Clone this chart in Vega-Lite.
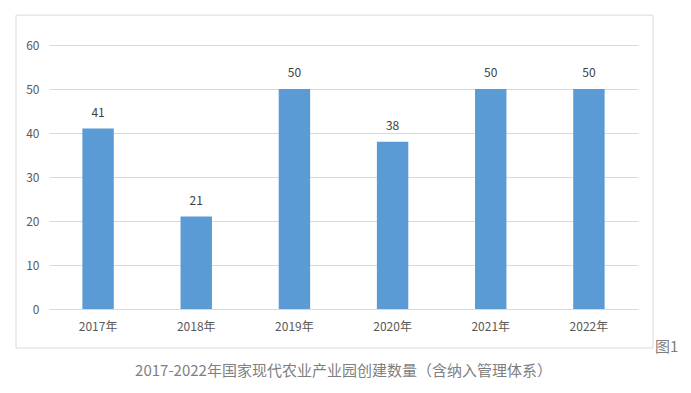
{
  "$schema": "https://vega.github.io/schema/vega-lite/v6.json",
  "width": 589,
  "height": 264,
  "autosize": {"type": "none"},
  "padding": {"left": 49, "top": 45, "right": 53, "bottom": 84},
  "background": "#ffffff",
  "config": {
    "view": {"stroke": null},
    "font": "Noto Sans CJK SC",
    "axis": {"gridColor": "#d9d9d9", "gridWidth": 1}
  },
  "title": {
    "text": "2017-2022年国家现代农业产业园创建数量（含纳入管理体系）",
    "orient": "bottom",
    "anchor": "middle",
    "fontSize": 15,
    "fontWeight": "normal",
    "color": "#7f7f7f",
    "offset": 9,
    "font": "Noto Sans CJK SC"
  },
  "resolve": {"scale": {"x": "independent"}, "axis": {"x": "independent"}},
  "layer": [
    {
      "data": {"values": [
        {"year": "2017年", "count": 41},
        {"year": "2018年", "count": 21},
        {"year": "2019年", "count": 50},
        {"year": "2020年", "count": 38},
        {"year": "2021年", "count": 50},
        {"year": "2022年", "count": 50}
      ]},
      "encoding": {
        "x": {
          "field": "year", "type": "nominal", "sort": null,
          "scale": {"paddingInner": 0.68, "paddingOuter": 0.34},
          "axis": {"title": null, "labelAngle": 0, "domain": false, "ticks": false, "labelPadding": 12, "labelFontSize": 12, "labelColor": "#595959", "grid": false}
        },
        "y": {
          "field": "count", "type": "quantitative",
          "scale": {"domain": [0, 60], "nice": false},
          "axis": {"title": null, "values": [0, 10, 20, 30, 40, 50, 60], "domain": false, "ticks": false, "grid": true, "labelPadding": 10, "labelFontSize": 12, "labelColor": "#595959", "gridColor": "#d9d9d9", "gridWidth": 1}
        }
      },
      "layer": [
        {"mark": {"type": "bar", "color": "#5b9bd5"}},
        {
          "mark": {"type": "text", "baseline": "bottom", "dy": -9, "fontSize": 12, "color": "#404040"},
          "encoding": {"text": {"field": "count", "type": "quantitative"}}
        }
      ]
    },
    {
      "data": {"values": [{"frame": "box"}]},
      "mark": {"type": "rect", "fill": null, "stroke": "#d9d9d9", "strokeWidth": 1},
      "encoding": {
        "x": {"datum": -0.056, "type": "quantitative", "scale": {"domain": [0, 1], "nice": false, "zero": false}, "axis": null},
        "x2": {"datum": 1.0255},
        "y": {"datum": 66.8, "type": "quantitative"},
        "y2": {"datum": -8.86}
      }
    },
    {
      "data": {"values": [{"note": "图1"}]},
      "mark": {"type": "text", "align": "left", "baseline": "middle", "fontSize": 15, "color": "#7f7f7f"},
      "encoding": {
        "x": {"datum": 1.029, "type": "quantitative", "scale": {"domain": [0, 1], "nice": false, "zero": false}, "axis": null},
        "y": {"datum": -8.6, "type": "quantitative"},
        "text": {"field": "note"}
      }
    }
  ]
}
